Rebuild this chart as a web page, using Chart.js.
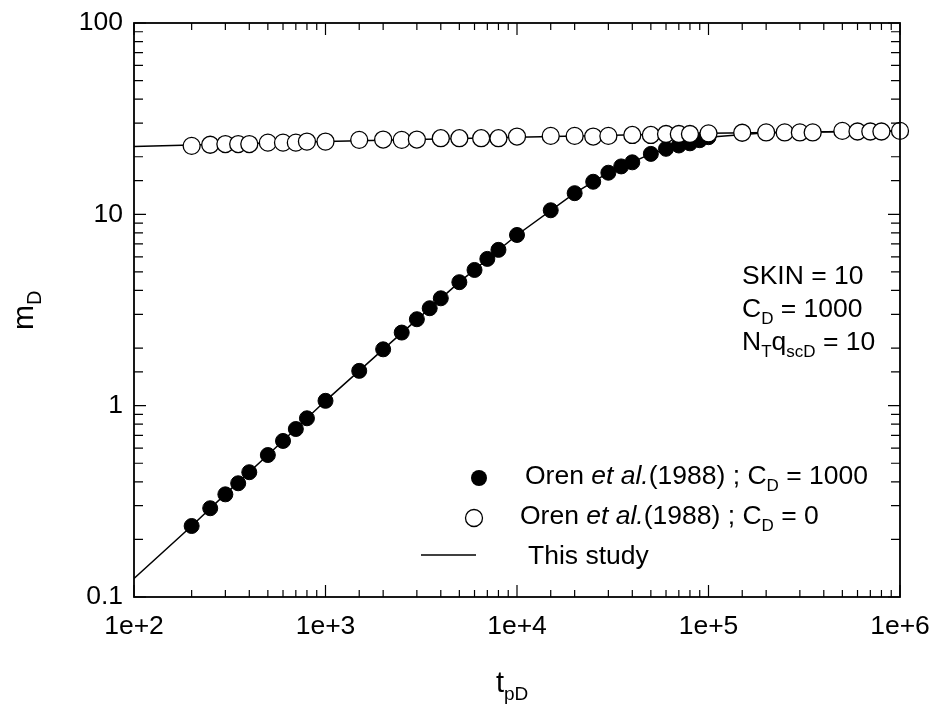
<!DOCTYPE html>
<html>
<head>
<meta charset="utf-8">
<script src="https://cdn.jsdelivr.net/npm/chart.js@4.4.1/dist/chart.umd.min.js"></script>
<style>
  html, body { margin: 0; padding: 0; background: #fff; }
  #wrap { width: 929px; height: 709px; }
</style>
</head>
<body>
<div id="wrap"><canvas id="chart" width="929" height="709"></canvas></div>
<script>
// Oren et al. (1988), C_D = 1000 (filled circles)
const orenCd1000T = [200, 250, 300, 350, 400, 500, 600, 700, 800, 1000, 1500, 2000, 2500, 3000, 3500, 4000,
  5000, 6000, 7000, 8000, 10000, 15000, 20000, 25000, 30000, 35000, 40000, 50000, 60000, 70000, 80000, 90000, 100000];
const orenCd1000M = [0.235, 0.291, 0.344, 0.393, 0.449, 0.552, 0.654, 0.755, 0.859, 1.06, 1.52, 1.97, 2.41, 2.83, 3.23, 3.64,
  4.42, 5.12, 5.85, 6.52, 7.8, 10.5, 12.9, 14.8, 16.5, 17.8, 18.7, 20.7, 22.0, 22.9, 23.5, 24.4, 25.3];

// Oren et al. (1988), C_D = 0 (open circles)
const orenCd0T = [200, 250, 300, 350, 400, 500, 600, 700, 800, 1000, 1500, 2000, 2500, 3000, 4000, 5000, 6500, 8000,
  10000, 15000, 20000, 25000, 30000, 40000, 50000, 60000, 70000, 80000, 100000, 150000, 200000, 250000, 300000,
  350000, 500000, 600000, 700000, 800000, 1000000];
const orenCd0M = [22.8, 23.1, 23.3, 23.3, 23.3, 23.7, 23.7, 23.7, 24.0, 24.0, 24.5, 24.6, 24.5, 24.6, 25.0, 25.0, 25.0, 25.0,
  25.5, 25.7, 25.7, 25.5, 25.7, 26.0, 26.0, 26.3, 26.3, 26.3, 26.5, 26.7, 26.8, 26.8, 26.8,
  26.8, 27.3, 27.1, 27.1, 27.1, 27.3];

// This study (solid lines)
const studyCd1000T = [100, 200, 300, 500, 1000, 2000, 5000, 10000, 20000, 30000, 50000, 70000, 100000, 200000, 500000, 1000000];
const studyCd1000M = [0.125, 0.235, 0.345, 0.552, 1.06, 1.97, 4.42, 7.8, 12.9, 16.5, 20.7, 22.9, 25.3, 26.7, 27.1, 27.3];
const studyCd0T = [100, 1000, 10000, 100000, 1000000];
const studyCd0M = [22.6, 24.0, 25.3, 26.5, 27.3];

const xTickLabels = ['1e+2', '1e+3', '1e+4', '1e+5', '1e+6'];
const yTickLabels = ['0.1', '1', '10', '100'];

const FONT = "'Liberation Sans', Arial, sans-serif";
const toPoints = (xs, ys) => xs.map((x, i) => ({ x: x, y: ys[i] }));
const decade = v => {
  const e = Math.log10(v);
  return Math.abs(e - Math.round(e)) < 1e-9 ? Math.round(e) : null;
};

// draws text made of pieces: plain, italic, subscript
const drawRich = (ctx, x, y, parts, size) => {
  let cx = x;
  parts.forEach(p => {
    const sub = p[1] === 's';
    const fs = sub ? Math.round(size * 0.66) : size;
    ctx.font = (p[1] === 'i' ? 'italic ' : '') + fs + 'px ' + FONT;
    ctx.fillText(p[0], cx, sub ? y + size * 0.26 : y);
    cx += ctx.measureText(p[0]).width;
  });
};

// frame and inward ticks on all four sides
const framePlugin = {
  id: 'frame',
  afterDraw(chart) {
    const { ctx, chartArea: a, scales } = chart;
    ctx.save();
    ctx.strokeStyle = '#000';
    ctx.lineWidth = 1.8;
    ctx.strokeRect(a.left, a.top, a.right - a.left, a.bottom - a.top);
    ctx.lineWidth = 1.2;
    ctx.beginPath();
    scales.x.ticks.forEach(t => {
      const px = scales.x.getPixelForValue(t.value);
      const len = decade(t.value) !== null ? 12 : 7;
      ctx.moveTo(px, a.bottom); ctx.lineTo(px, a.bottom - len);
      ctx.moveTo(px, a.top); ctx.lineTo(px, a.top + len);
    });
    scales.y.ticks.forEach(t => {
      const py = scales.y.getPixelForValue(t.value);
      const len = decade(t.value) !== null ? 12 : 9;
      ctx.moveTo(a.left, py); ctx.lineTo(a.left + len, py);
      ctx.moveTo(a.right, py); ctx.lineTo(a.right - len, py);
    });
    ctx.stroke();
    ctx.restore();
  }
};

// legend, parameter box and axis titles
const textPlugin = {
  id: 'texts',
  afterDraw(chart) {
    const { ctx } = chart;
    ctx.save();
    ctx.fillStyle = '#000';
    ctx.textBaseline = 'alphabetic';
    ctx.textAlign = 'left';

    drawRich(ctx, 742, 284, [['SKIN = 10', 'n']], 26.5);
    drawRich(ctx, 742, 317, [['C', 'n'], ['D', 's'], [' = 1000', 'n']], 26.5);
    drawRich(ctx, 742, 350, [['N', 'n'], ['T', 's'], ['q', 'n'], ['scD', 's'], [' = 10', 'n']], 26.5);

    // legend
    ctx.beginPath();
    ctx.arc(479, 478, 8, 0, Math.PI * 2);
    ctx.fill();
    ctx.beginPath();
    ctx.arc(474, 518, 8.5, 0, Math.PI * 2);
    ctx.fillStyle = '#fff';
    ctx.fill();
    ctx.lineWidth = 1.3;
    ctx.strokeStyle = '#000';
    ctx.stroke();
    ctx.fillStyle = '#000';
    ctx.beginPath();
    ctx.moveTo(421, 555); ctx.lineTo(476, 555);
    ctx.stroke();
    drawRich(ctx, 525, 484, [['Oren ', 'n'], ['et al.', 'i'], ['(1988) ; C', 'n'], ['D', 's'], [' = 1000', 'n']], 26.5);
    drawRich(ctx, 520, 524, [['Oren ', 'n'], ['et al.', 'i'], ['(1988) ; C', 'n'], ['D', 's'], [' = 0', 'n']], 26.5);
    drawRich(ctx, 528, 564, [['This study', 'n']], 26.5);

    // x title
    drawRich(ctx, 496, 692, [['t', 'n'], ['pD', 's']], 29);
    // y title, rotated
    ctx.translate(33, 330);
    ctx.rotate(-Math.PI / 2);
    drawRich(ctx, 0, 0, [['m', 'n'], ['D', 's']], 30);
    ctx.restore();
  }
};

new Chart(document.getElementById('chart'), {
  type: 'scatter',
  data: {
    datasets: [
      {
        label: 'Oren et al.(1988) ; CD = 0',
        data: toPoints(orenCd0T, orenCd0M),
        pointRadius: 8.5,
        backgroundColor: '#fff',
        borderColor: '#000',
        borderWidth: 1.3,
        clip: false,
        order: 1
      },
      {
        label: 'Oren et al.(1988) ; CD = 1000',
        data: toPoints(orenCd1000T, orenCd1000M),
        pointRadius: 7.5,
        backgroundColor: '#000',
        borderColor: '#000',
        borderWidth: 1,
        clip: false,
        order: 2
      },
      {
        label: 'This study',
        data: toPoints(studyCd1000T, studyCd1000M),
        showLine: true,
        pointRadius: 0,
        borderColor: '#000',
        borderWidth: 1.5,
        order: 3
      },
      {
        label: 'This study (CD = 0)',
        data: toPoints(studyCd0T, studyCd0M),
        showLine: true,
        pointRadius: 0,
        borderColor: '#000',
        borderWidth: 1.5,
        order: 3
      }
    ]
  },
  options: {
    responsive: false,
    animation: false,
    events: [],
    layout: { padding: { top: 23, right: 29, left: 0, bottom: 0 } },
    plugins: {
      legend: { display: false },
      tooltip: { enabled: false }
    },
    scales: {
      x: {
        type: 'logarithmic',
        min: 100,
        max: 1000000,
        grid: { display: false, drawTicks: false },
        border: { display: false },
        afterFit: scale => {
          scale.height = 112;
          scale.paddingLeft = 0;
          scale.paddingRight = 0;
        },
        ticks: {
          autoSkip: false,
          maxRotation: 0,
          padding: 14,
          color: '#000',
          font: { family: FONT, size: 26.5 },
          callback: v => {
            const e = decade(v);
            return e === null ? '' : xTickLabels[e - 2];
          }
        }
      },
      y: {
        type: 'logarithmic',
        min: 0.1,
        max: 100,
        grid: { display: false, drawTicks: false },
        border: { display: false },
        afterFit: scale => {
          scale.width = 134;
          scale.paddingTop = 0;
          scale.paddingBottom = 0;
        },
        ticks: {
          autoSkip: false,
          padding: 11,
          color: '#000',
          font: { family: FONT, size: 26.5 },
          callback: v => {
            const e = decade(v);
            return e === null ? '' : yTickLabels[e + 1];
          }
        }
      }
    }
  },
  plugins: [framePlugin, textPlugin]
});
</script>
</body>
</html>
